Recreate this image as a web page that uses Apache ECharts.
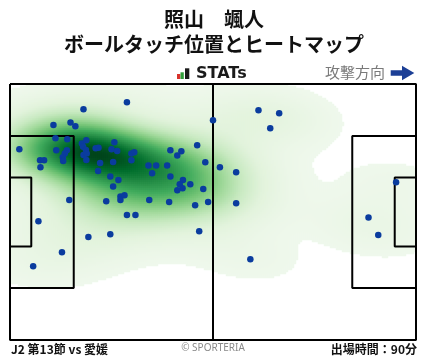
<!DOCTYPE html>
<html><head><meta charset="utf-8">
<script src="https://cdn.jsdelivr.net/npm/echarts@6/dist/echarts.min.js"></script>
<style>html,body{margin:0;padding:0;background:#fff}#c{width:428px;height:359px}</style>
</head><body><div id="c"></div>
<script>
// Ball touch positions, pitch units 0-100 (x: own goal -> attack direction, y: top -> bottom)
const touchX = [18.1,28.8,10.7,14.9,16.1,50.0,2.3,11.2,14.1,11.4,14.0,13.5,13.0,13.1,7.4,8.4,7.5,17.7,18.8,18.0,18.7,18.1,18.9,18.8,21.1,21.8,25.7,25.0,26.4,22.2,25.4,21.7,24.7,26.7,25.4,29.9,30.6,29.9,34.1,36.0,35.0,38.7,39.5,42.2,41.2,46.1,48.1,51.7,55.7,39.5,42.6,41.8,42.5,41.2,44.4,47.6,14.6,23.7,27.2,27.2,28.2,34.3,39.2,45.6,48.8,55.7,61.2,66.3,64.1,95.1,28.8,30.9,7.0,19.3,24.7,46.6,12.8,5.7,59.2,88.3,90.7];
const touchY = [9.9,7.1,16.0,15.0,16.5,14.2,25.5,21.2,21.6,25.9,25.9,27.1,28.6,30.1,29.8,29.8,32.5,23.2,22.0,24.5,25.8,27.7,27.1,29.7,25.1,24.9,22.8,25.5,26.2,30.9,30.5,34.0,36.1,37.5,40.0,27.1,26.7,29.8,31.8,31.8,34.9,31.8,25.9,26.3,27.9,23.9,30.6,32.5,34.5,36.1,37.5,39.2,40.7,41.5,39.2,41.0,45.3,45.8,43.9,45.3,43.5,45.3,46.1,47.4,46.1,46.6,10.3,11.4,17.3,38.4,51.2,51.2,53.6,59.8,58.7,57.5,65.7,71.2,68.5,52.1,59.0];
// pitch markings (pitch units)
const penaltyDepth = 15.7, penaltyTop = 20.35, penaltyBottom = 79.65;
const goalDepth = 5.24, goalTop = 36.5, goalBottom = 63.5;
const titleLines = ['照山　颯人', 'ボールタッチ位置とヒートマップ'];
const footerLeft = 'J2 第13節 vs 愛媛';
const footerRight = '出場時間：90分';
const credit = '© SPORTERIA';
const directionLabel = '攻撃方向';
const greens = ['#eff8ec','#e2f3dc','#c7e9c0','#a1d99b','#74c476','#41ab5d','#238b45','#006d2c','#00441b'];

// Gaussian KDE (Scott bandwidth, full covariance) from the touch positions
const bwAdjust = 1.12;
const n = touchX.length;
let mx = 0, my = 0;
for (let k = 0; k < n; k++) { mx += touchX[k]; my += touchY[k]; }
mx /= n; my /= n;
let sxx = 0, syy = 0, sxy = 0;
for (let k = 0; k < n; k++) { const a = touchX[k]-mx, b = touchY[k]-my; sxx += a*a; syy += b*b; sxy += a*b; }
sxx /= (n-1); syy /= (n-1); sxy /= (n-1);
const f2 = Math.pow(n, -1/3) * bwAdjust * bwAdjust;
const hxx = sxx*f2, hyy = syy*f2, hxy = sxy*f2;
const det = hxx*hyy - hxy*hxy;
const ixx = hyy/det, iyy = hxx/det, ixy = -hxy/det;
const norm = 1/(2*Math.PI*Math.sqrt(det)*n);
function dens(x, y) {
  let s = 0;
  for (let k = 0; k < n; k++) {
    const dx = x - touchX[k], dy = y - touchY[k];
    s += Math.exp(-0.5*(ixx*dx*dx + 2*ixy*dx*dy + iyy*dy*dy));
  }
  return s*norm;
}
const NX = 203, NY = 128, dxg = 100/NX, dyg = 100/NY;
const bwx = Math.sqrt(hxx), bwy = Math.sqrt(hyy);
const gx0 = Math.min(...touchX)-3*bwx, gx1 = Math.max(...touchX)+3*bwx;
const gy0 = Math.min(...touchY)-3*bwy, gy1 = Math.max(...touchY)+3*bwy;
const all = [];
for (let x = gx0; x <= gx1; x += 2*dxg) for (let y = gy0; y <= gy1; y += 2*dyg) all.push(dens(x, y));
all.sort((a, b) => b - a);
const tot = all.reduce((a, b) => a + b, 0);
const thresh = 0.03;
let cum = 0, level = 0;
for (const v of all) { cum += v; if (cum >= tot*(1-thresh)) { level = v; break; } }
const heat = [];
let vmax = 0;
for (let i = 0; i < NX; i++) for (let j = 0; j < NY; j++) {
  const v = dens((i+0.5)*dxg, (j+0.5)*dyg);
  if (v > vmax) vmax = v;
  if (v >= level) heat.push([i, j, v]);
}
const catX = Array.from({length: NX}, (_, i) => i);
const catY = Array.from({length: NY}, (_, j) => j);

function rectPath(x0, y0, x1, y1) { return [[x0,y0],[x1,y0],[x1,y1],[x0,y1],[x0,y0]]; }
const fieldShapes = [
  rectPath(0, 0, 100, 100),
  [[50, 0], [50, 100]],
  [[0, penaltyTop],[penaltyDepth, penaltyTop],[penaltyDepth, penaltyBottom],[0, penaltyBottom]],
  [[0, goalTop],[goalDepth, goalTop],[goalDepth, goalBottom],[0, goalBottom]],
  [[100, penaltyTop],[100-penaltyDepth, penaltyTop],[100-penaltyDepth, penaltyBottom],[100, penaltyBottom]],
  [[100, goalTop],[100-goalDepth, goalTop],[100-goalDepth, goalBottom],[100, goalBottom]]
];
const lineSeries = fieldShapes.map(p => ({
  type: 'line', xAxisIndex: 1, yAxisIndex: 1, data: p, symbol: 'none', clip: false,
  lineStyle: {color: '#000', width: 2}, z: 5, silent: true, animation: false
}));

const cjk = '"Noto Sans CJK JP", "Noto Sans", sans-serif';
const chart = echarts.init(document.getElementById('c'));
chart.setOption({
  animation: false,
  backgroundColor: '#fff',
  grid: [
    {left: 10, top: 84, width: 406, height: 256},
    {left: 10, top: 84, width: 406, height: 256}
  ],
  xAxis: [
    {type: 'category', gridIndex: 0, data: catX, show: false},
    {type: 'value', gridIndex: 1, min: 0, max: 100, show: false}
  ],
  yAxis: [
    {type: 'category', gridIndex: 0, data: catY, inverse: true, show: false},
    {type: 'value', gridIndex: 1, min: 0, max: 100, inverse: true, show: false}
  ],
  visualMap: {
    type: 'continuous', show: false, seriesIndex: 0, dimension: 2,
    min: level, max: vmax, inRange: {color: greens}
  },
  series: [
    {type: 'heatmap', xAxisIndex: 0, yAxisIndex: 0, data: heat, progressive: 0,
     itemStyle: {borderWidth: 0}, emphasis: {disabled: true}, silent: true, z: 1},
    ...lineSeries,
    {type: 'scatter', xAxisIndex: 1, yAxisIndex: 1,
     data: touchX.map((x, k) => [x, touchY[k]]),
     symbolSize: 6.5, itemStyle: {color: '#0a3c9e', opacity: 1}, z: 10, clip: false}
  ],
  graphic: [
    {type: 'text', left: 'center', top: 9, style: {text: titleLines[0], font: 'bold 20px ' + cjk, fill: '#111'}},
    {type: 'text', left: 'center', top: 34, style: {text: titleLines[1], font: 'bold 20px ' + cjk, fill: '#111'}},
    {type: 'rect', shape: {x: 177, y: 74, width: 3.3, height: 5}, style: {fill: '#d8322c'}},
    {type: 'rect', shape: {x: 180.5, y: 72.3, width: 3.3, height: 6.7}, style: {fill: '#2f9e3a'}},
    {type: 'rect', shape: {x: 185, y: 68.3, width: 4.3, height: 10.7}, style: {fill: '#1a1a1a'}},
    {type: 'text', x: 196, y: 74, style: {text: 'STATs', font: 'bold 16px "DejaVu Sans"', fill: '#1a1a1a', textVerticalAlign: 'middle'}},
    {type: 'text', x: 325, y: 72.5, style: {text: directionLabel, font: '15px ' + cjk, fill: '#7a7a7a', textVerticalAlign: 'middle'}},
    {type: 'polygon', shape: {points: [[390.7,70.3],[402,70.3],[402,65.7],[414.3,73],[402,80.3],[402,75.7],[390.7,75.7]]}, style: {fill: '#1c3f96'}},
    {type: 'text', x: 11, y: 349.5, style: {text: footerLeft, font: 'bold 12px ' + cjk, fill: '#111', textVerticalAlign: 'middle'}},
    {type: 'text', x: 213, y: 348.5, style: {text: credit, font: '10px "Noto Sans", sans-serif', fill: '#8a8a8a', textAlign: 'center', textVerticalAlign: 'middle'}},
    {type: 'text', x: 417, y: 349.5, style: {text: footerRight, font: 'bold 12px ' + cjk, fill: '#111', textAlign: 'right', textVerticalAlign: 'middle'}}
  ]
});
</script></body></html>
